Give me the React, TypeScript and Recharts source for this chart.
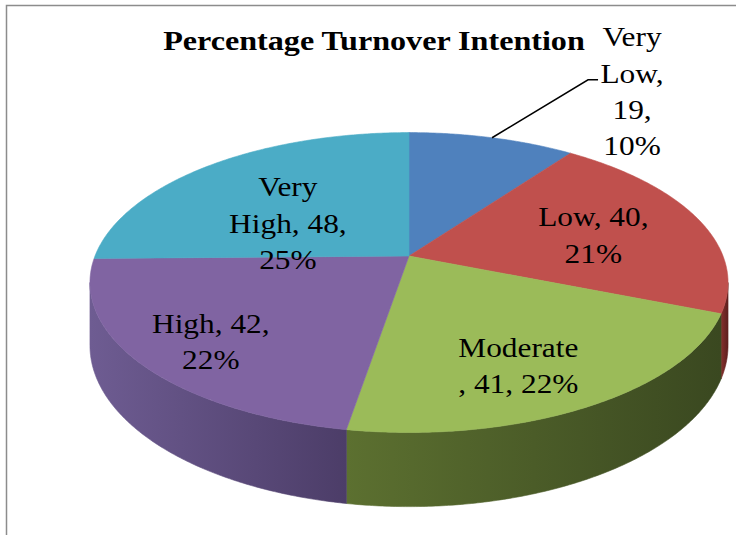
import React from 'react';
import { PieChart, Pie, Cell } from 'recharts';

const categories = ['Very Low', 'Low', 'Moderate', 'High', 'Very High'];
const counts = [19, 40, 41, 42, 48];
const topColors = ['#4f81bd', '#c0504d', '#9bbb59', '#8064a2', '#4bacc6'];
const wallColors = [
  ['#36598a', '#263f63'],
  ['#86302d', '#5c1f1d'],
  ['#5c7030', '#3a4820'],
  ['#6e5c92', '#4c3d68'],
  ['#2f7488', '#215460'],
];
// {v} = value, {p} = percent, line breaks as in the original
const labelTemplates = [
  'Very\nLow,\n{v},\n{p}%',
  'Low, {v},\n{p}%',
  'Moderate\n, {v}, {p}%',
  'High, {v},\n{p}%',
  'Very\nHigh, {v},\n{p}%',
];

const data = categories.map((name, i) => ({ name, value: counts[i] }));

// 3D look
const TILT = 0.4626; // ry / rx
const PERSP = 0.177; // near side bigger than far side
const DEPTH = 61;
const SIL = (Math.acos(-PERSP) * 180) / Math.PI; // where the side wall becomes visible
const FONT = '"Liberation Serif", "Times New Roman", serif';

// label placement: radius on the top face, then a small nudge
const labelPlace = [
  { r: 1, dx: 140, dy: -46, outside: true },
  { r: 0.63, dx: 0, dy: 4 },
  { r: 0.64, dx: 0, dy: 20 },
  { r: 0.76, dx: 0, dy: 7 },
  { r: 0.58, dx: 0, dy: 23 },
];

const project = (cx: number, cy: number, rx: number, deg: number, r = 1) => {
  const t = (deg * Math.PI) / 180;
  const u = r * Math.sin(t);
  const v = r * Math.cos(t);
  const den = 1 + PERSP * v;
  return { x: cx + (rx * u) / den, y: cy - (rx * TILT * v) / den, den };
};

const arcPoints = (cx: number, cy: number, rx: number, a1: number, a2: number, drop = 0) => {
  const pts: string[] = [];
  const n = Math.max(2, Math.ceil(Math.abs(a2 - a1) * 2));
  for (let k = 0; k <= n; k++) {
    const p = project(cx, cy, rx, a1 + ((a2 - a1) * k) / n);
    pts.push(`${p.x.toFixed(2)},${(p.y + drop / p.den).toFixed(2)}`);
  }
  return pts;
};

const TopFace = (props: any) => {
  const { cx, cy, outerRadius, startAngle, endAngle, fill } = props;
  const a1 = 90 - startAngle;
  const a2 = 90 - endAngle;
  const pts = arcPoints(cx, cy, outerRadius, a1, a2);
  return <path d={`M${cx},${cy}L${pts.join('L')}Z`} fill={fill} stroke={fill} strokeWidth={0.6} />;
};

const WallFace = (props: any) => {
  const { cx, cy, outerRadius, startAngle, endAngle, fill } = props;
  const a1 = Math.max(90 - startAngle, SIL);
  const a2 = Math.min(90 - endAngle, 360 - SIL);
  if (a2 <= a1) return <g />;
  const top = arcPoints(cx, cy, outerRadius, a1, a2);
  const bottom = arcPoints(cx, cy, outerRadius, a2, a1, DEPTH);
  return <path d={`M${top.join('L')}L${bottom.join('L')}Z`} fill={fill} stroke={fill} strokeWidth={0.6} />;
};

const renderLabel = (props: any) => {
  const { cx, cy, outerRadius, midAngle, percent, value } = props;
  const name = props.payload?.name ?? props.name;
  const i = categories.indexOf(name);
  const place = labelPlace[i];
  const lines = labelTemplates[i]
    .replace('{v}', String(value))
    .replace('{p}', String(Math.round(percent * 100)))
    .split('\n');
  const theta = 90 - midAngle;
  const p = project(cx, cy, outerRadius, theta, place.r);
  const x = p.x + place.dx;
  const y = p.y + place.dy;
  return (
    <g key={`lbl-${i}`}>
      {place.outside && (
        <polyline
          points={`${p.x},${p.y} ${p.x + 96},${p.y - 58} ${p.x + 106},${p.y - 58}`}
          fill="none"
          stroke="#000"
          strokeWidth={1.5}
        />
      )}
      <g transform={`translate(${x},${y}) scale(1.12,1)`}>
        <text textAnchor="middle" fontFamily={FONT} fontSize={28} fill="#000">
          {lines.map((ln, k) => (
            <tspan key={k} x={0} y={(k - (lines.length - 1) / 2) * 36.5 + 9}>
              {ln}
            </tspan>
          ))}
        </text>
      </g>
    </g>
  );
};

export default function App() {
  return (
    <div style={{ position: 'absolute', left: 0, top: 0, width: 736, height: 535, background: '#fff' }}>
      <svg width={736} height={535} style={{ position: 'absolute', left: 0, top: 0 }}>
        <path d="M6.5,535 L6.5,5.5 L736,5.5" fill="none" stroke="#8c8c8c" strokeWidth={1.5} />
        <g transform="translate(374,50) scale(1.19,1)">
          <text x={0} y={0} textAnchor="middle" fontFamily={FONT} fontWeight="bold" fontSize={27} fill="#000">
            Percentage Turnover Intention
          </text>
        </g>
      </svg>
      <div style={{ position: 'absolute', left: 0, top: 0 }}>
        <PieChart width={736} height={535} margin={{ top: 0, right: 0, bottom: 0, left: 0 }}>
          <defs>
            {wallColors.map((c, i) => (
              <linearGradient key={i} id={`wall-${i}`} x1="0" y1="0" x2="1" y2="0">
                <stop offset="0%" stopColor={c[0]} />
                <stop offset="100%" stopColor={c[1]} />
              </linearGradient>
            ))}
          </defs>
          <Pie
            data={data}
            dataKey="value"
            nameKey="name"
            cx={409}
            cy={256}
            outerRadius={314}
            startAngle={90}
            endAngle={-270}
            stroke="none"
            shape={WallFace}
            isAnimationActive={false}
          >
            {data.map((d, i) => (
              <Cell key={d.name} fill={`url(#wall-${i})`} />
            ))}
          </Pie>
          <Pie
            data={data}
            dataKey="value"
            nameKey="name"
            cx={409}
            cy={256}
            outerRadius={314}
            startAngle={90}
            endAngle={-270}
            stroke="none"
            shape={TopFace}
            label={renderLabel}
            labelLine={false}
            isAnimationActive={false}
          >
            {data.map((d, i) => (
              <Cell key={d.name} fill={topColors[i]} />
            ))}
          </Pie>
        </PieChart>
      </div>
    </div>
  );
}
